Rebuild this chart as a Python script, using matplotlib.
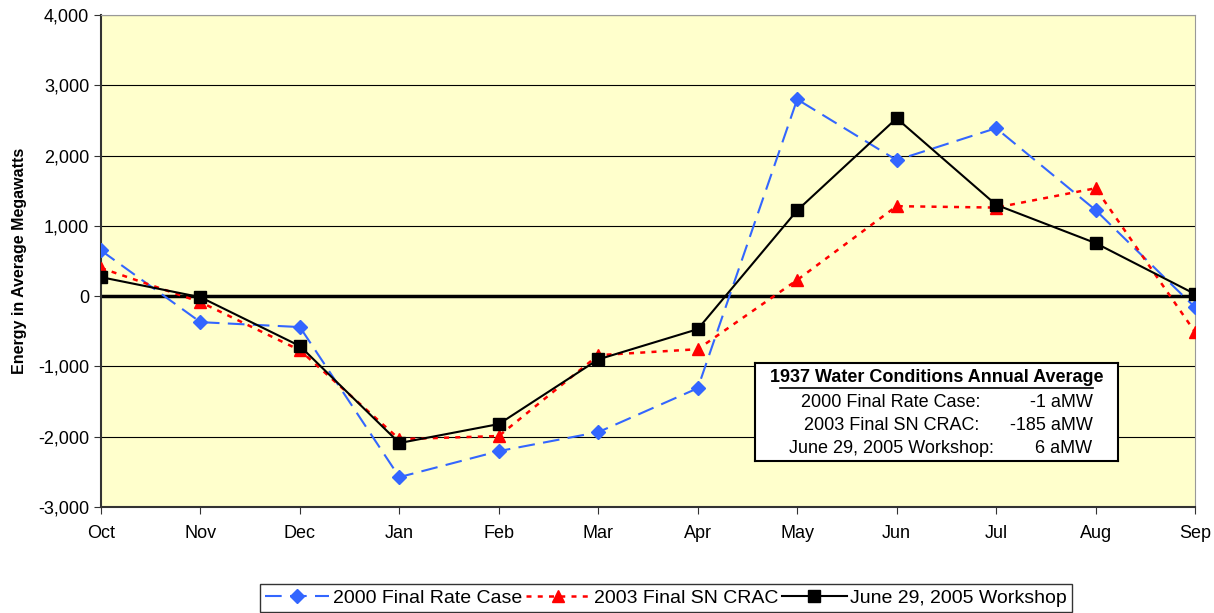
import numpy as np
import matplotlib.pyplot as plt

plt.rcParams['font.family'] = ['Liberation Sans', 'DejaVu Sans']

months = ['Oct', 'Nov', 'Dec', 'Jan', 'Feb', 'Mar', 'Apr', 'May', 'Jun', 'Jul', 'Aug', 'Sep']
rate_case_2000 = [650, -370, -440, -2575, -2205, -1935, -1310, 2800, 1935, 2390, 1225, -160]
sn_crac_2003 = [400, -85, -770, -2035, -1990, -840, -755, 230, 1280, 1260, 1535, -510]
workshop_2005 = [270, -15, -710, -2090, -1820, -900, -470, 1220, 2530, 1300, 755, 30]
labels = ['2000 Final Rate Case', '2003 Final SN CRAC', 'June 29, 2005 Workshop']

x = np.arange(len(months))
fs = 13

fig = plt.figure(figsize=(12.14, 6.13), dpi=100)
ax = fig.add_axes([101/1214, 1-507/613, 1094/1214, 492/613])
ax.set_facecolor('#FFFFCC')

ax.plot(x, rate_case_2000, color='#3366FF', ls=(0, (8, 4)), lw=1.5, marker='D', ms=7,
        label=labels[0], zorder=3)
ax.plot(x, sn_crac_2003, color='#FF0000', ls=(0, (2, 2.5)), lw=1.8, marker='^', ms=9,
        label=labels[1], zorder=3)
ax.plot(x, workshop_2005, color='black', ls='-', lw=1.5, marker='s', ms=9,
        label=labels[2], zorder=4)
ax.axhline(0, color='black', lw=2.5, zorder=2)

ax.set_xlim(0, 11)
ax.set_ylim(-3000, 4000)
ax.set_yticks(np.arange(-3000, 4001, 1000))
ax.set_yticklabels(['{:,}'.format(v) for v in range(-3000, 4001, 1000)])
ax.set_xticks(x)
ax.set_xticklabels(months)
ax.yaxis.grid(True, color='black', lw=0.8)
ax.set_axisbelow(True)
ax.tick_params(labelsize=fs, length=5, color='#333333')
ax.tick_params(axis='x', pad=8)
for s in ['top', 'right']:
    ax.spines[s].set_color('#999999')
for s in ['left', 'bottom']:
    ax.spines[s].set_color('#333333')
    ax.spines[s].set_linewidth(1.5)
ax.set_ylabel('Energy in Average Megawatts', fontsize=11.5, fontweight='bold', labelpad=8)

leg = fig.legend(loc='center', bbox_to_anchor=(666/1214, 1-598/613), ncol=3, fontsize=14,
                 frameon=True, fancybox=False, edgecolor='black', handlelength=3.3,
                 handletextpad=0.2, columnspacing=0.2, borderpad=0.25, borderaxespad=0)
leg.get_frame().set_linewidth(1.0)

# annual average box
bx = fig.add_axes([755/1214, 1-461/613, 363/1214, 98/613])
bx.set_xticks([])
bx.set_yticks([])
bx.set_xlim(0, 1)
bx.set_ylim(0, 1)
bx.set_facecolor('white')
for s in bx.spines.values():
    s.set_linewidth(1.5)
    s.set_color('black')
bx.text(0.5, 0.85, '1937 Water Conditions Annual Average', ha='center', va='center',
        fontsize=fs, fontweight='bold')
bx.plot([0.07, 0.93], [0.745, 0.745], color='black', lw=1.2)
rows = [('2000 Final Rate Case:', '-1 aMW'), ('2003 Final SN CRAC:', '-185 aMW'),
        ('June 29, 2005 Workshop:', '6 aMW')]
for i, (a, b) in enumerate(rows):
    yy = 0.6 - i * 0.235
    bx.text(0.375, yy, a, ha='center', va='center', fontsize=fs)
    bx.text(0.93, yy, b, ha='right', va='center', fontsize=fs)

fig.savefig('out.png', dpi=100)
